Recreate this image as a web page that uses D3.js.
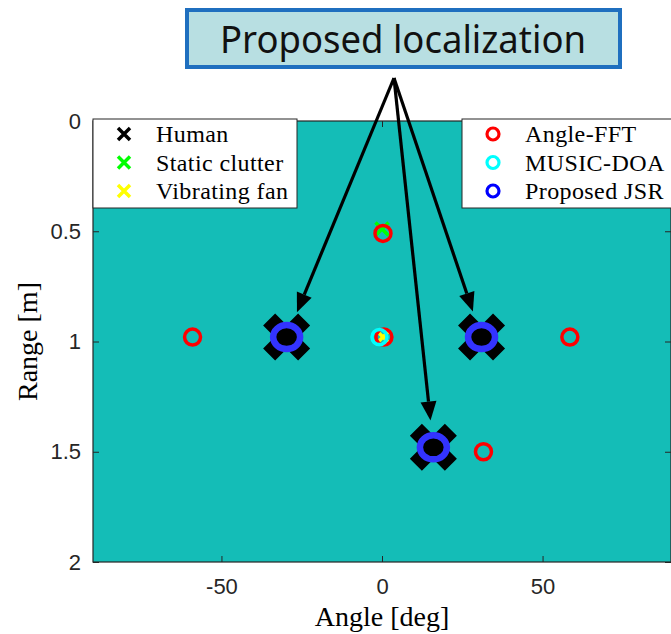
<!DOCTYPE html>
<html lang="en">

<head>
  <meta charset="UTF-8">
  <title>Proposed localization</title>
  <script src="https://d3js.org/d3.v7.min.js"></script>
  <style>
    body {
      margin: 0;
      background: #ffffff;
    }

    .tick text {
      font-family: "Liberation Sans", Arial, sans-serif;
      font-size: 22px;
      fill: #262626;
    }

    .tick line {
      stroke: #262626;
    }

    .lbl {
      font-family: "Liberation Serif", "Times New Roman", serif;
      fill: #000000;
    }
  </style>
</head>

<body>
  <svg width="671" height="634"></svg>
  <script>
    // values (angle in deg, range in m)
    const humanAngle = [-29.7, 31, 16];
    const humanRange = [0.98, 0.98, 1.48];
    const clutterAngle = [0];
    const clutterRange = [0.49];
    const fanAngle = [0.3];
    const fanRange = [0.98];
    const fftAngle = [-59, 0.3, 0.6, 58.5, 31.6];
    const fftRange = [0.98, 0.51, 0.98, 0.98, 1.5];
    const musicAngle = [-0.8];
    const musicRange = [0.98];
    const jsrAngle = [-29.7, 31, 16];
    const jsrRange = [0.98, 0.98, 1.48];

    const xTicks = [-50, 0, 50];
    const yTicks = [0, 0.5, 1, 1.5, 2];
    const leftLegend = ["Human", "Static clutter", "Vibrating fan"];
    const rightLegend = ["Angle-FFT", "MUSIC-DOA", "Proposed JSR"];

    const svg = d3.select("svg");
    const x = d3.scaleLinear().domain([-90, 90]).range([93, 671]);
    const y = d3.scaleLinear().domain([0, 2]).range([121, 562]);

    const zip = (a, r) => a.map((v, i) => [v, r[i]]);

    // axes background
    svg.append("rect")
      .attr("x", x(-90)).attr("y", y(0))
      .attr("width", x(90) - x(-90)).attr("height", y(2) - y(0))
      .attr("fill", "#14bdb7");

    // x marker helper
    function cross(g, s) {
      return g.append("path").attr("d", `M${-s},${-s}L${s},${s}M${-s},${s}L${s},${-s}`);
    }

    const plot = svg.append("g");

    // humans: big black crosses
    zip(humanAngle, humanRange).forEach(d => {
      const g = plot.append("g").attr("transform", `translate(${x(d[0])},${y(d[1])})`);
      cross(g, 17.5).attr("stroke", "#000").attr("stroke-width", 17).attr("fill", "none");
    });
    zip(clutterAngle, clutterRange).forEach(d => {
      const g = plot.append("g").attr("transform", `translate(${x(d[0])},${y(d[1])})`);
      cross(g, 6.5).attr("stroke", "#00ff00").attr("stroke-width", 3.5).attr("fill", "none");
    });
    zip(fanAngle, fanRange).forEach(d => {
      const g = plot.append("g").attr("transform", `translate(${x(d[0])},${y(d[1])})`);
      cross(g, 7).attr("stroke", "#ffff00").attr("stroke-width", 3.5).attr("fill", "none");
    });

    plot.selectAll(".fft").data(zip(fftAngle, fftRange)).enter().append("circle")
      .attr("cx", d => x(d[0])).attr("cy", d => y(d[1])).attr("r", 8)
      .attr("fill", "none").attr("stroke", "#ff0000").attr("stroke-width", 3.5);
    plot.selectAll(".music").data(zip(musicAngle, musicRange)).enter().append("circle")
      .attr("cx", d => x(d[0])).attr("cy", d => y(d[1])).attr("r", 7.5)
      .attr("fill", "none").attr("stroke", "#00ffff").attr("stroke-width", 3.5);
    plot.selectAll(".jsr").data(zip(jsrAngle, jsrRange)).enter().append("ellipse")
      .attr("cx", d => x(d[0])).attr("cy", d => y(d[1])).attr("rx", 13.5).attr("ry", 12)
      .attr("fill", "none").attr("stroke", "#3333ff").attr("stroke-width", 6.5);

    // axes
    svg.append("g").attr("transform", `translate(0,${y(2)})`)
      .call(d3.axisBottom(x).tickValues(xTicks).tickFormat(d => String(d)).tickSize(-6).tickPadding(16))
      .call(g => g.select(".domain").remove());
    svg.append("g").attr("transform", `translate(0,${y(0)})`)
      .call(d3.axisTop(x).tickValues(xTicks).tickFormat("").tickSize(-6))
      .call(g => g.select(".domain").remove());
    svg.append("g").attr("transform", `translate(${x(-90)},0)`)
      .call(d3.axisLeft(y).tickValues(yTicks).tickFormat(d => String(d)).tickSize(-6).tickPadding(12))
      .call(g => g.select(".domain").remove());
    svg.append("g").attr("transform", `translate(${x(90)},0)`)
      .call(d3.axisRight(y).tickValues(yTicks).tickFormat("").tickSize(-6))
      .call(g => g.select(".domain").remove());
    svg.append("rect")
      .attr("x", x(-90)).attr("y", y(0))
      .attr("width", x(90) - x(-90)).attr("height", y(2) - y(0))
      .attr("fill", "none").attr("stroke", "#262626").attr("stroke-width", 1.2);

    svg.append("text").attr("class", "lbl")
      .attr("x", x(0)).attr("y", 626).attr("text-anchor", "middle")
      .attr("font-size", 28).text("Angle [deg]");
    svg.append("text").attr("class", "lbl")
      .attr("transform", `translate(37,${(y(0) + y(2)) / 2}) rotate(-90)`)
      .attr("text-anchor", "middle").attr("font-size", 28).text("Range [m]");

    // legends
    function legend(x0, x1, names, draw) {
      const g = svg.append("g");
      g.append("rect").attr("x", x0).attr("y", 119).attr("width", x1 - x0).attr("height", 89)
        .attr("fill", "#fff").attr("stroke", "#262626").attr("stroke-width", 1);
      names.forEach((n, i) => {
        const cy = 134 + i * 28.5;
        const m = g.append("g").attr("transform", `translate(${x0 + 31},${cy})`);
        draw(m, i);
        g.append("text").attr("class", "lbl").attr("x", x0 + 63).attr("y", cy + 8)
          .attr("font-size", 24).attr("letter-spacing", 0.4).text(n);
      });
    }
    const crossColors = ["#000000", "#00ff00", "#ffff00"];
    const ringColors = ["#ff0000", "#00ffff", "#0000ff"];
    legend(93, 297, leftLegend, (m, i) =>
      cross(m, 6).attr("stroke", crossColors[i]).attr("stroke-width", 3.5).attr("fill", "none"));
    legend(462, 690, rightLegend, (m, i) =>
      m.append("circle").attr("r", 6).attr("fill", "none")
        .attr("stroke", ringColors[i]).attr("stroke-width", 3.2));

    // annotation box and arrows
    svg.append("rect").attr("x", 187).attr("y", 10).attr("width", 433).attr("height", 57)
      .attr("fill", "#b8dfe2").attr("stroke", "#1f6fbf").attr("stroke-width", 4);
    svg.append("text").attr("x", 403).attr("y", 53).attr("text-anchor", "middle")
      .attr("font-family", "'Noto Sans', 'Open Sans', sans-serif").attr("font-size", 38)
      .attr("textLength", 366).attr("lengthAdjust", "spacingAndGlyphs")
      .attr("fill", "#111").text("Proposed localization");

    const apex = [394, 78];
    zip(humanAngle, humanRange).forEach(d => {
      const tx = x(d[0]), ty = y(d[1]);
      const dx = tx - apex[0], dy = ty - apex[1];
      const len = Math.hypot(dx, dy), ux = dx / len, uy = dy / len;
      const tip = [tx - ux * 27, ty - uy * 27];
      const base = [tip[0] - ux * 19, tip[1] - uy * 19];
      svg.append("line").attr("x1", apex[0]).attr("y1", apex[1])
        .attr("x2", base[0]).attr("y2", base[1])
        .attr("stroke", "#000").attr("stroke-width", 3.2);
      svg.append("path")
        .attr("d", `M${tip[0]},${tip[1]}L${base[0] - uy * 8},${base[1] + ux * 8}L${base[0] + uy * 8},${base[1] - ux * 8}Z`)
        .attr("fill", "#000");
    });
  </script>
</body>

</html>
